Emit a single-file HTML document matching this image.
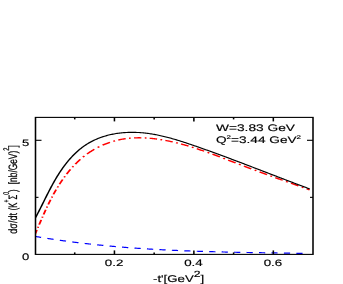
<!DOCTYPE html>
<html><head><meta charset="utf-8"><title>plot</title>
<style>
html,body{margin:0;padding:0;background:#fff;}
body{width:343px;height:284px;overflow:hidden;}
svg{display:block;}
text{font-family:"Liberation Sans",sans-serif;fill:#000;text-rendering:geometricPrecision;stroke:#000;stroke-width:0.16;}
</style></head><body>
<svg width="343" height="284" viewBox="0 0 343 284">
<rect width="343" height="284" fill="#fff"/>
<defs><filter id="bl" filterUnits="userSpaceOnUse" x="0" y="0" width="343" height="284"><feGaussianBlur stdDeviation="0.35"/></filter>
<clipPath id="cp"><rect x="25.177" y="117.4" width="196.809" height="137.0"/></clipPath></defs>
<g filter="url(#bl)">
<g transform="scale(1.41,1)">
<g clip-path="url(#cp)" fill="none" stroke-linejoin="round">
<path d="M24.752,236.36 L25.119,236.45 L25.504,236.54 L25.953,236.65 L26.338,236.74 L26.723,236.83 L27.172,236.93 L27.557,237.02 L27.942,237.11 L28.392,237.22 L28.777,237.31 L29.167,237.40 M33.582,238.39 L33.915,238.47 L34.301,238.55 L34.750,238.65 L35.136,238.73 L35.522,238.81 L35.972,238.91 L36.357,238.99 L36.743,239.08 L37.193,239.17 L37.579,239.25 L37.996,239.34 M42.411,240.25 L42.789,240.32 L43.176,240.40 L43.562,240.48 L44.012,240.56 L44.398,240.64 L44.785,240.72 L45.171,240.79 L45.622,240.88 L46.008,240.95 L46.394,241.03 L46.826,241.11 M51.241,241.93 L51.612,242.00 L51.999,242.07 L52.386,242.14 L52.837,242.22 L53.224,242.29 L53.610,242.36 L53.997,242.42 L54.448,242.50 L54.835,242.57 L55.222,242.64 L55.656,242.71 M60.071,243.45 L60.447,243.51 L60.834,243.58 L61.221,243.64 L61.673,243.71 L62.060,243.77 L62.447,243.84 L62.835,243.90 L63.286,243.97 L63.674,244.03 L64.061,244.09 L64.486,244.16 M68.901,244.82 L69.227,244.87 L69.615,244.92 L70.067,244.99 L70.455,245.05 L70.842,245.10 L71.295,245.17 L71.682,245.22 L72.070,245.27 L72.523,245.34 L72.910,245.39 L73.316,245.45 M77.730,246.04 L78.082,246.09 L78.470,246.14 L78.858,246.19 L79.311,246.24 L79.699,246.29 L80.087,246.34 L80.475,246.39 L80.928,246.45 L81.316,246.50 L81.704,246.54 L82.145,246.60 M86.560,247.12 L86.946,247.17 L87.334,247.21 L87.722,247.25 L88.175,247.30 L88.564,247.35 L88.952,247.39 L89.341,247.43 L89.794,247.48 L90.182,247.53 L90.571,247.57 L90.975,247.61 M95.390,248.07 L95.752,248.11 L96.141,248.15 L96.529,248.19 L96.983,248.23 L97.372,248.27 L97.760,248.31 L98.149,248.34 L98.603,248.39 L98.991,248.43 L99.380,248.46 L99.805,248.50 M104.220,248.90 L104.565,248.93 L104.954,248.97 L105.343,249.00 L105.797,249.04 L106.186,249.07 L106.575,249.11 L106.964,249.14 L107.417,249.18 L107.806,249.21 L108.196,249.24 L108.635,249.28 M113.050,249.63 L113.384,249.65 L113.773,249.68 L114.162,249.71 L114.616,249.74 L115.005,249.77 L115.394,249.80 L115.784,249.83 L116.238,249.86 L116.627,249.89 L117.016,249.92 L117.465,249.95 M121.879,250.25 L122.207,250.27 L122.596,250.29 L122.986,250.32 L123.440,250.35 L123.829,250.37 L124.219,250.40 L124.608,250.42 L125.062,250.45 L125.452,250.47 L125.841,250.50 L126.294,250.53 M130.709,250.78 L131.034,250.80 L131.424,250.82 L131.813,250.84 L132.268,250.87 L132.657,250.89 L133.047,250.91 L133.436,250.93 L133.891,250.95 L134.280,250.97 L134.670,250.99 L135.124,251.02 M139.539,251.23 L139.864,251.25 L140.254,251.27 L140.644,251.29 L141.098,251.31 L141.488,251.32 L141.877,251.34 L142.267,251.36 L142.722,251.38 L143.111,251.40 L143.501,251.41 L143.954,251.43 M148.369,251.62 L148.697,251.63 L149.087,251.65 L149.476,251.66 L149.931,251.68 L150.321,251.69 L150.710,251.71 L151.100,251.72 L151.555,251.74 L151.945,251.76 L152.334,251.77 L152.784,251.79 M157.199,251.94 L157.531,251.96 L157.921,251.97 L158.311,251.98 L158.765,252.00 L159.155,252.01 L159.545,252.02 L159.935,252.04 L160.389,252.05 L160.779,252.06 L161.169,252.08 L161.613,252.09 M166.028,252.22 L166.366,252.23 L166.756,252.25 L167.146,252.26 L167.600,252.27 L167.990,252.28 L168.380,252.29 L168.770,252.30 L169.225,252.32 L169.614,252.33 L170.004,252.34 L170.443,252.35 M174.858,252.47 L175.201,252.48 L175.591,252.49 L175.981,252.50 L176.436,252.51 L176.826,252.52 L177.215,252.53 L177.605,252.54 L178.060,252.55 L178.450,252.56 L178.840,252.57 L179.273,252.58 M183.688,252.69 L184.036,252.69 L184.426,252.70 L184.816,252.71 L185.271,252.72 L185.660,252.73 L186.050,252.74 L186.440,252.75 L186.895,252.76 L187.284,252.77 L187.674,252.78 L188.103,252.79 M192.518,252.89 L192.870,252.90 L193.260,252.91 L193.650,252.92 L194.104,252.93 L194.494,252.93 L194.884,252.94 L195.273,252.95 L195.728,252.96 L196.118,252.97 L196.507,252.98 L196.933,252.99 M201.348,253.09 L201.702,253.10 L202.092,253.11 L202.481,253.12 L202.936,253.13 L203.325,253.13 L203.715,253.14 L204.105,253.15 L204.559,253.16 L204.949,253.17 L205.338,253.18 L205.762,253.19 M210.177,253.30 L210.532,253.30 L210.921,253.31 L211.310,253.32 L211.765,253.33 L212.154,253.34 L212.544,253.35 L212.933,253.36 L213.387,253.38 L213.777,253.38 L214.166,253.39 L214.592,253.41" stroke="#0000ff" stroke-width="1.2"/>
<path d="M24.854,234.36 L24.941,234.07 L25.058,233.68 L25.175,233.30 L25.292,232.91 L25.409,232.52 L25.555,232.04 L25.672,231.65 L25.790,231.26 L25.907,230.87 L26.025,230.48 L26.162,230.02 M26.816,227.85 L26.822,227.83 L26.851,227.73 L26.881,227.63 L26.911,227.54 L26.940,227.44 L27.000,227.24 L27.030,227.14 L27.059,227.04 L27.089,226.94 L27.119,226.85 L27.151,226.74 M27.776,224.67 L27.867,224.37 L27.987,223.97 L28.138,223.48 L28.259,223.08 L28.410,222.58 L28.532,222.18 L28.684,221.69 L28.806,221.29 L28.959,220.79 L29.082,220.39 L29.224,219.92 M29.896,217.75 L29.917,217.68 L29.948,217.58 L29.979,217.48 L30.011,217.38 L30.042,217.28 L30.073,217.18 L30.105,217.08 L30.136,216.98 L30.167,216.88 L30.199,216.78 L30.243,216.64 M30.895,214.57 L31.021,214.17 L31.149,213.77 L31.310,213.27 L31.439,212.86 L31.568,212.46 L31.730,211.96 L31.860,211.56 L31.990,211.15 L32.154,210.65 L32.285,210.25 L32.425,209.82 M33.145,207.65 L33.150,207.64 L33.184,207.54 L33.217,207.44 L33.251,207.34 L33.285,207.23 L33.318,207.13 L33.352,207.03 L33.386,206.93 L33.420,206.83 L33.454,206.73 L33.519,206.54 M34.226,204.47 L34.345,204.13 L34.484,203.73 L34.658,203.23 L34.798,202.83 L34.974,202.33 L35.116,201.93 L35.293,201.43 L35.436,201.03 L35.615,200.53 L35.759,200.13 L35.907,199.72 M36.707,197.55 L36.708,197.55 L36.745,197.45 L36.782,197.35 L36.819,197.25 L36.856,197.15 L36.930,196.96 L36.968,196.86 L37.005,196.76 L37.042,196.66 L37.080,196.56 L37.126,196.44 M37.921,194.37 L38.065,194.00 L38.219,193.61 L38.412,193.12 L38.568,192.73 L38.763,192.24 L38.920,191.85 L39.117,191.36 L39.276,190.97 L39.475,190.49 L39.635,190.10 L39.835,189.62 M40.757,187.45 L40.777,187.40 L40.819,187.31 L40.860,187.21 L40.902,187.12 L40.943,187.02 L41.027,186.83 L41.068,186.73 L41.110,186.64 L41.152,186.54 L41.194,186.45 L41.241,186.34 M42.168,184.27 L42.300,183.98 L42.517,183.51 L42.734,183.04 L42.909,182.66 L43.129,182.20 L43.350,181.73 L43.573,181.26 L43.752,180.89 L43.976,180.43 L44.202,179.97 L44.422,179.52 M45.521,177.35 L45.537,177.32 L45.584,177.23 L45.631,177.14 L45.678,177.05 L45.725,176.96 L45.819,176.78 L45.866,176.69 L45.913,176.60 L45.960,176.51 L46.007,176.42 L46.101,176.24 M47.216,174.17 L47.449,173.75 L47.694,173.31 L47.940,172.87 L48.187,172.44 L48.436,172.00 L48.686,171.57 L48.937,171.14 L49.190,170.71 L49.444,170.29 L49.699,169.86 L49.966,169.42 M51.327,167.25 L51.365,167.19 L51.418,167.11 L51.471,167.03 L51.577,166.87 L51.630,166.78 L51.683,166.70 L51.736,166.62 L51.843,166.46 L51.896,166.38 L51.950,166.29 L52.052,166.14 M53.459,164.07 L53.690,163.74 L54.023,163.27 L54.357,162.81 L54.694,162.35 L55.032,161.89 L55.316,161.51 L55.658,161.06 L56.003,160.61 L56.349,160.16 L56.697,159.72 L57.017,159.32 M58.833,157.15 L58.891,157.09 L59.012,156.95 L59.072,156.88 L59.193,156.74 L59.254,156.67 L59.376,156.53 L59.436,156.47 L59.558,156.33 L59.619,156.26 L59.741,156.13 L59.819,156.04 M61.775,153.97 L62.171,153.57 L62.617,153.13 L63.065,152.70 L63.516,152.27 L63.970,151.85 L64.492,151.38 L64.952,150.97 L65.414,150.56 L65.879,150.17 L66.347,149.78 L66.865,149.35 M69.259,147.52 L69.272,147.51 L69.410,147.41 L69.548,147.31 L69.617,147.26 L69.756,147.16 L69.895,147.06 L70.034,146.96 L70.104,146.91 L70.243,146.82 L70.382,146.72 L70.483,146.65 M72.766,145.17 L73.136,144.94 L73.637,144.64 L74.068,144.39 L74.572,144.10 L75.079,143.82 L75.514,143.58 L76.024,143.31 L76.535,143.05 L76.975,142.83 L77.489,142.58 L77.999,142.33 M80.393,141.29 L80.459,141.26 L80.608,141.20 L80.683,141.17 L80.833,141.11 L80.908,141.08 L81.058,141.02 L81.133,140.99 L81.283,140.94 L81.359,140.91 L81.509,140.85 L81.618,140.81 M83.901,140.02 L84.309,139.89 L84.767,139.75 L85.224,139.62 L85.760,139.47 L86.219,139.34 L86.680,139.22 L87.141,139.11 L87.679,138.98 L88.141,138.88 L88.604,138.78 L89.134,138.68 M91.528,138.27 L91.549,138.27 L91.705,138.25 L91.782,138.24 L91.938,138.22 L92.016,138.21 L92.171,138.19 L92.249,138.18 L92.405,138.16 L92.483,138.15 L92.639,138.13 L92.753,138.12 M95.035,137.91 L95.451,137.88 L95.920,137.86 L96.390,137.83 L96.861,137.82 L97.331,137.80 L97.881,137.79 L98.352,137.79 L98.823,137.79 L99.294,137.79 L99.766,137.80 L100.269,137.81 M102.663,137.92 L102.676,137.92 L102.833,137.93 L102.912,137.94 L103.069,137.95 L103.148,137.96 L103.306,137.97 L103.384,137.97 L103.542,137.99 L103.620,137.99 L103.778,138.01 L103.888,138.01 M106.170,138.25 L106.609,138.31 L107.080,138.37 L107.552,138.43 L108.023,138.50 L108.494,138.57 L109.043,138.66 L109.513,138.74 L109.984,138.82 L110.453,138.90 L110.923,138.98 L111.404,139.08 M113.798,139.57 L113.812,139.58 L113.967,139.61 L114.045,139.63 L114.201,139.66 L114.279,139.68 L114.434,139.72 L114.512,139.73 L114.668,139.77 L114.745,139.79 L114.901,139.82 L115.022,139.85 M117.305,140.42 L117.768,140.54 L118.231,140.67 L118.694,140.80 L119.234,140.95 L119.696,141.08 L120.158,141.22 L120.619,141.35 L121.157,141.52 L121.617,141.66 L122.078,141.80 L122.538,141.95 M124.932,142.74 L124.983,142.76 L125.136,142.81 L125.212,142.83 L125.365,142.89 L125.441,142.91 L125.593,142.97 L125.669,142.99 L125.822,143.05 L125.898,143.07 L126.050,143.13 L126.157,143.17 M128.440,144.00 L128.861,144.16 L129.316,144.33 L129.846,144.54 L130.299,144.71 L130.753,144.89 L131.282,145.10 L131.735,145.29 L132.188,145.47 L132.715,145.69 L133.167,145.87 L133.673,146.09 M136.067,147.11 L136.099,147.13 L136.249,147.19 L136.324,147.23 L136.474,147.29 L136.548,147.33 L136.698,147.39 L136.773,147.43 L136.923,147.49 L136.998,147.53 L137.148,147.59 L137.292,147.66 M139.574,148.70 L139.990,148.89 L140.437,149.10 L140.960,149.34 L141.407,149.55 L141.929,149.80 L142.375,150.02 L142.896,150.27 L143.343,150.48 L143.863,150.74 L144.309,150.95 L144.808,151.20 M147.202,152.39 L147.203,152.39 L147.351,152.47 L147.425,152.51 L147.574,152.58 L147.722,152.66 L147.796,152.69 L147.944,152.77 L148.092,152.84 L148.166,152.88 L148.314,152.96 L148.427,153.01 M150.709,154.19 L151.124,154.40 L151.641,154.67 L152.084,154.90 L152.601,155.17 L153.043,155.40 L153.560,155.67 L154.002,155.91 L154.518,156.18 L154.960,156.41 L155.476,156.69 L155.943,156.94 M158.337,158.21 L158.347,158.22 L158.494,158.30 L158.567,158.34 L158.714,158.42 L158.862,158.50 L158.935,158.54 L159.082,158.61 L159.229,158.69 L159.303,158.73 L159.450,158.81 L159.561,158.87 M161.844,160.10 L162.242,160.31 L162.757,160.59 L163.197,160.83 L163.711,161.10 L164.152,161.34 L164.666,161.62 L165.106,161.86 L165.620,162.13 L166.061,162.37 L166.574,162.64 L167.077,162.91 M169.471,164.19 L169.510,164.21 L169.657,164.29 L169.730,164.33 L169.877,164.41 L170.024,164.49 L170.097,164.53 L170.244,164.60 L170.391,164.68 L170.464,164.72 L170.611,164.80 L170.696,164.84 M172.979,166.05 L173.399,166.28 L173.913,166.55 L174.353,166.78 L174.867,167.05 L175.307,167.28 L175.821,167.55 L176.261,167.78 L176.775,168.05 L177.215,168.28 L177.729,168.55 L178.212,168.81 M180.606,170.06 L180.665,170.09 L180.812,170.16 L180.885,170.20 L181.032,170.28 L181.106,170.32 L181.252,170.39 L181.326,170.43 L181.473,170.51 L181.546,170.55 L181.693,170.62 L181.831,170.69 M184.113,171.88 L184.483,172.07 L184.997,172.34 L185.438,172.56 L185.952,172.83 L186.466,173.10 L186.907,173.32 L187.422,173.59 L187.936,173.85 L188.377,174.08 L188.891,174.34 L189.347,174.58 M191.741,175.81 L191.759,175.82 L191.906,175.89 L191.979,175.93 L192.127,176.00 L192.274,176.08 L192.347,176.12 L192.494,176.19 L192.641,176.27 L192.715,176.30 L192.862,176.38 L192.966,176.43 M195.248,177.60 L195.659,177.81 L196.174,178.07 L196.616,178.29 L197.132,178.56 L197.574,178.78 L198.089,179.04 L198.531,179.27 L199.047,179.53 L199.490,179.75 L200.006,180.02 L200.482,180.26 M202.876,181.47 L202.882,181.47 L203.030,181.55 L203.104,181.58 L203.251,181.66 L203.399,181.73 L203.473,181.77 L203.620,181.85 L203.768,181.92 L203.842,181.96 L203.990,182.03 L204.100,182.09 M206.383,183.24 L206.797,183.45 L207.314,183.71 L207.758,183.93 L208.276,184.19 L208.720,184.42 L209.238,184.68 L209.682,184.90 L210.200,185.16 L210.644,185.39 L211.163,185.65 L211.616,185.87 M214.010,187.08 L214.053,187.10 L214.202,187.17 L214.276,187.21 L214.424,187.28 L214.498,187.32 L214.647,187.40 L214.721,187.43 L214.869,187.51 L214.944,187.54 L215.092,187.62 L215.235,187.69 M217.518,188.83 L217.617,188.88 L217.840,189.00 L217.989,189.07 L218.212,189.18 L218.435,189.29 L218.584,189.37 L218.807,189.48 L219.030,189.59 L219.178,189.67 L219.402,189.78 L219.550,189.85" stroke="#ff0000" stroke-width="1.35"/>
<path d="M24.928,218.30 L25.288,217.37 L25.646,216.43 L26.001,215.49 L26.355,214.54 L26.706,213.60 L27.057,212.65 L27.405,211.70 L27.752,210.74 L28.098,209.79 L28.443,208.83 L28.788,207.87 L29.131,206.90 L29.474,205.94 L29.816,204.97 L30.159,204.01 L30.501,203.04 L30.843,202.07 L31.186,201.10 L31.529,200.13 L31.873,199.16 L32.217,198.18 L32.562,197.21 L32.908,196.24 L33.256,195.27 L33.605,194.30 L33.955,193.32 L34.307,192.35 L34.661,191.38 L35.017,190.41 L35.376,189.45 L35.736,188.48 L36.099,187.51 L36.465,186.55 L36.833,185.59 L37.204,184.63 L37.579,183.67 L37.957,182.71 L38.338,181.76 L38.723,180.81 L39.112,179.86 L39.504,178.91 L39.901,177.97 L40.302,177.03 L40.707,176.09 L41.117,175.16 L41.531,174.23 L41.951,173.30 L42.375,172.38 L42.805,171.46 L43.240,170.55 L43.681,169.64 L44.127,168.74 L44.579,167.84 L45.037,166.94 L45.502,166.05 L45.972,165.17 L46.449,164.29 L46.931,163.42 L47.420,162.55 L47.915,161.69 L48.416,160.84 L48.923,160.00 L49.436,159.16 L49.956,158.34 L50.482,157.52 L51.013,156.71 L51.552,155.91 L52.096,155.12 L52.646,154.34 L53.203,153.57 L53.766,152.82 L54.335,152.07 L54.910,151.34 L55.492,150.62 L56.080,149.91 L56.674,149.21 L57.274,148.53 L57.881,147.86 L58.493,147.20 L59.113,146.56 L59.738,145.93 L60.370,145.32 L61.008,144.73 L61.652,144.14 L62.302,143.58 L62.958,143.03 L63.620,142.49 L64.287,141.97 L64.960,141.47 L65.638,140.98 L66.322,140.50 L67.010,140.04 L67.704,139.60 L68.402,139.17 L69.105,138.75 L69.812,138.34 L70.524,137.96 L71.240,137.58 L71.960,137.22 L72.684,136.87 L73.412,136.54 L74.143,136.22 L74.878,135.91 L75.617,135.62 L76.358,135.34 L77.103,135.07 L77.851,134.82 L78.601,134.58 L79.354,134.35 L80.110,134.14 L80.868,133.93 L81.629,133.74 L82.391,133.57 L83.156,133.40 L83.922,133.25 L84.690,133.11 L85.460,132.98 L86.231,132.86 L87.003,132.76 L87.776,132.67 L88.551,132.59 L89.326,132.52 L90.102,132.46 L90.879,132.41 L91.656,132.38 L92.433,132.35 L93.211,132.34 L93.988,132.34 L94.766,132.35 L95.543,132.36 L96.320,132.39 L97.096,132.44 L97.871,132.49 L98.646,132.55 L99.420,132.62 L100.193,132.70 L100.964,132.79 L101.735,132.89 L102.504,133.00 L103.273,133.12 L104.040,133.25 L104.807,133.39 L105.572,133.54 L106.337,133.69 L107.100,133.86 L107.863,134.03 L108.625,134.21 L109.385,134.40 L110.145,134.60 L110.904,134.80 L111.662,135.01 L112.419,135.23 L113.175,135.46 L113.931,135.69 L114.685,135.93 L115.439,136.17 L116.192,136.43 L116.944,136.68 L117.695,136.95 L118.445,137.22 L119.195,137.49 L119.944,137.77 L120.692,138.06 L121.440,138.35 L122.186,138.65 L122.932,138.95 L123.678,139.25 L124.422,139.56 L125.166,139.87 L125.910,140.19 L126.652,140.51 L127.394,140.84 L128.136,141.17 L128.877,141.50 L129.617,141.83 L130.356,142.17 L131.095,142.51 L131.834,142.85 L132.572,143.20 L133.309,143.54 L134.046,143.89 L134.783,144.24 L135.518,144.59 L136.254,144.95 L136.989,145.30 L137.723,145.66 L138.457,146.01 L139.191,146.37 L139.924,146.73 L140.657,147.09 L141.389,147.45 L142.121,147.81 L142.852,148.17 L143.584,148.54 L144.314,148.90 L145.045,149.26 L145.775,149.63 L146.504,150.00 L147.233,150.36 L147.962,150.73 L148.691,151.10 L149.419,151.47 L150.147,151.84 L150.874,152.21 L151.601,152.58 L152.328,152.96 L153.055,153.33 L153.781,153.70 L154.507,154.08 L155.233,154.45 L155.959,154.83 L156.684,155.21 L157.409,155.58 L158.133,155.96 L158.858,156.34 L159.582,156.72 L160.306,157.10 L161.030,157.48 L161.753,157.86 L162.477,158.24 L163.200,158.62 L163.923,159.00 L164.646,159.39 L165.368,159.77 L166.091,160.15 L166.813,160.54 L167.535,160.92 L168.257,161.31 L168.979,161.69 L169.701,162.08 L170.423,162.46 L171.144,162.85 L171.866,163.24 L172.587,163.62 L173.308,164.01 L174.029,164.40 L174.750,164.79 L175.471,165.17 L176.192,165.56 L176.913,165.95 L177.634,166.34 L178.355,166.73 L179.075,167.12 L179.796,167.51 L180.517,167.90 L181.238,168.29 L181.958,168.68 L182.679,169.07 L183.400,169.46 L184.120,169.85 L184.841,170.24 L185.562,170.63 L186.283,171.03 L187.004,171.42 L187.725,171.81 L188.446,172.20 L189.167,172.59 L189.888,172.98 L190.609,173.37 L191.330,173.77 L192.052,174.16 L192.773,174.55 L193.495,174.94 L194.217,175.33 L194.939,175.72 L195.661,176.11 L196.383,176.50 L197.106,176.90 L197.828,177.29 L198.551,177.68 L199.274,178.07 L199.997,178.46 L200.720,178.85 L201.443,179.24 L202.167,179.63 L202.891,180.02 L203.615,180.41 L204.339,180.80 L205.064,181.19 L205.789,181.57 L206.514,181.96 L207.239,182.35 L207.965,182.74 L208.690,183.13 L209.417,183.51 L210.143,183.90 L210.870,184.29 L211.597,184.67 L212.324,185.06 L213.052,185.44 L213.780,185.83 L214.508,186.21 L215.237,186.60 L215.966,186.98 L216.695,187.36 L217.425,187.75 L218.155,188.13 L218.885,188.51 L219.616,188.89" stroke="#000" stroke-width="1.12"/>
</g>
<g stroke="#000" stroke-width="1.1" fill="none">
<rect x="25.177" y="117.4" width="196.809" height="137.0"/>
<line x1="52.993" y1="254.4" x2="52.993" y2="252.4"/>
<line x1="52.993" y1="117.4" x2="52.993" y2="119.4"/>
<line x1="81.163" y1="254.4" x2="81.163" y2="250.4"/>
<line x1="81.163" y1="117.4" x2="81.163" y2="121.4"/>
<line x1="109.333" y1="254.4" x2="109.333" y2="252.4"/>
<line x1="109.333" y1="117.4" x2="109.333" y2="119.4"/>
<line x1="137.504" y1="254.4" x2="137.504" y2="250.4"/>
<line x1="137.504" y1="117.4" x2="137.504" y2="121.4"/>
<line x1="165.674" y1="254.4" x2="165.674" y2="252.4"/>
<line x1="165.674" y1="117.4" x2="165.674" y2="119.4"/>
<line x1="193.844" y1="254.4" x2="193.844" y2="250.4"/>
<line x1="193.844" y1="117.4" x2="193.844" y2="121.4"/>
<line x1="25.177" y1="197.35" x2="27.305" y2="197.35"/>
<line x1="221.986" y1="197.35" x2="219.858" y2="197.35"/>
<line x1="25.177" y1="140.30" x2="29.433" y2="140.30"/>
<line x1="221.986" y1="140.30" x2="217.730" y2="140.30"/>
</g>
</g>
<text transform="translate(114.04,266.0) scale(1.433,1)" font-size="9.3" text-anchor="middle" >0.2</text>
<text transform="translate(193.48,266.0) scale(1.433,1)" font-size="9.3" text-anchor="middle" >0.4</text>
<text transform="translate(272.92,266.0) scale(1.433,1)" font-size="9.3" text-anchor="middle" >0.6</text>
<text transform="translate(22.0,145.9) scale(1.375,1)" font-size="9.5" text-anchor="start" >5</text>
<text transform="translate(22.0,260.3) scale(1.375,1)" font-size="9.5" text-anchor="start" >0</text>
<text transform="translate(216.0,130.9) scale(1.445,1)" font-size="9.5" text-anchor="start" >W=3.83 GeV</text>
<text transform="translate(216.0,143.3) scale(1.435,1)" font-size="9.5" text-anchor="start" >Q<tspan font-size="5.5" dy="-4.6">2</tspan><tspan dy="4.6">=3.44 GeV</tspan><tspan font-size="5.5" dy="-4.6">2</tspan></text>
<text transform="translate(153.0,282.0) scale(1.35,1)" font-size="9.8" text-anchor="start" >-t'[GeV<tspan font-size="9.0" dy="-5.5">2</tspan><tspan dy="5.5">]</tspan></text>
<text id="ytA" transform="translate(16.9,233.8) rotate(-90) scale(1.115,1.48)" font-size="8.2">dσ/dt</text>
<text id="ytB" transform="translate(16.9,210.2) rotate(-90) scale(0.93,1.48)" font-size="8.2">(K<tspan font-size="5.6" dy="-5.2">+</tspan><tspan dy="5.2">Σ</tspan><tspan font-size="5.6" dy="-5.2">0</tspan><tspan dy="5.2">)</tspan></text>
<text id="ytC" transform="translate(16.9,184.2) rotate(-90) scale(1.02,1.48)" font-size="8.2">[nb/GeV)<tspan font-size="5.6" dy="-5.2">2</tspan><tspan dy="5.2">]</tspan></text>
</g>
</svg>
</body></html>
